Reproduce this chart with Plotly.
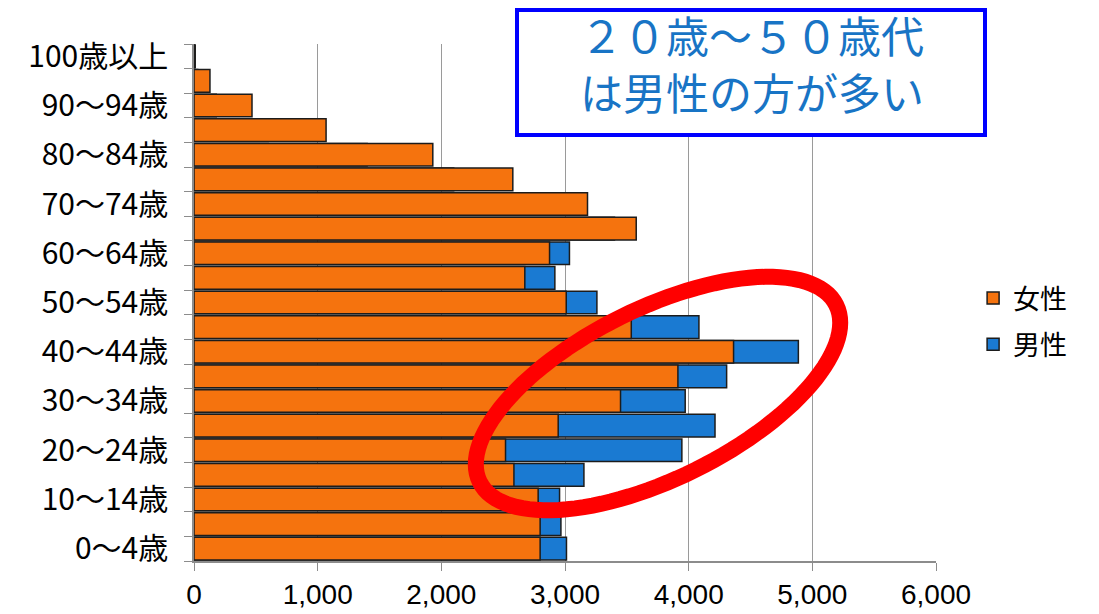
import numpy as np
import plotly.graph_objects as go

# Age groups, bottom to top
age_groups = [
    "0～4歳", "5～9歳", "10～14歳", "15～19歳", "20～24歳", "25～29歳",
    "30～34歳", "35～39歳", "40～44歳", "45～49歳", "50～54歳", "55～59歳",
    "60～64歳", "65～69歳", "70～74歳", "75～79歳", "80～84歳", "85～89歳",
    "90～94歳", "95～99歳", "100歳以上",
]
# Every other group is labelled on the axis
tick_labels = [
    "0～4歳", "", "10～14歳", "", "20～24歳", "",
    "30～34歳", "", "40～44歳", "", "50～54歳", "",
    "60～64歳", "", "70～74歳", "", "80～84歳", "",
    "90～94歳", "", "100歳以上",
]
female = [2799, 2799, 2783, 2587, 2519, 2945, 3449, 3913, 4363, 3536, 3010,
          2675, 2875, 3576, 3182, 2578, 1931, 1068, 469, 129, 10]
male = [3012, 2967, 2956, 3153, 3945, 4213, 3972, 4307, 4887, 4083, 3258,
        2918, 3036, 3400, 2900, 2100, 1400, 600, 180, 30, 3]

x_ticks = [0, 1000, 2000, 3000, 4000, 5000, 6000]

callout_lines = ["２０歳～５０歳代", "は男性の方が多い"]

W, H = 1099, 614
M_L, M_R, M_T, M_B = 194, 163, 44, 53
PW, PH = W - M_L - M_R, H - M_T - M_B


def px(xp):
    return (xp - M_L) / PW


def py(yp):
    return (H - M_B - yp) / PH


ORANGE = "#F5730E"
BLUE = "#1A7AD2"
EDGE = "#1c1c1c"
JP_FONT = "Noto Sans CJK JP"

fig = go.Figure()
# Male bars sit behind, female bars are drawn over them
fig.add_trace(go.Bar(
    x=male, y=age_groups, orientation="h", name="男性",
    marker=dict(color=BLUE, line=dict(color=EDGE, width=1.5)),
    legendgroup="m", legendrank=2,
))
fig.add_trace(go.Bar(
    x=female, y=age_groups, orientation="h", name="女性",
    marker=dict(color=ORANGE, line=dict(color=EDGE, width=1.5)),
    legendgroup="f", legendrank=1,
))

# Callout box and highlight ellipse
shapes = [
    dict(type="rect", xref="paper", yref="paper",
         x0=px(517), x1=px(985), y0=py(135), y1=py(10),
         fillcolor="white", line=dict(color="#0000FF", width=4), layer="above"),
]

cx, cy, a, b, th = 658, 393.5, 199, 85, np.radians(26.4)
t = np.linspace(0, 2 * np.pi, 121)
ex = cx + a * np.cos(t) * np.cos(th) - b * np.sin(t) * np.sin(th)
ey = cy - (a * np.cos(t) * np.sin(th) + b * np.sin(t) * np.cos(th))
path = "M " + " L ".join(f"{px(u):.5f},{py(v):.5f}" for u, v in zip(ex, ey)) + " Z"
shapes.append(dict(type="path", xref="paper", yref="paper", path=path,
                   line=dict(color="#FF0000", width=16), layer="above"))

annotations = [
    dict(xref="paper", yref="paper", x=px(752), y=py(yc),
         xanchor="center", yanchor="middle", showarrow=False, text=line,
         font=dict(family=JP_FONT, size=43, color="#1874C5"))
    for line, yc in zip(callout_lines, [34, 91])
]

fig.update_layout(
    width=W, height=H, autosize=False,
    margin=dict(l=M_L, r=M_R, t=M_T, b=M_B, pad=0, autoexpand=False),
    paper_bgcolor="white", plot_bgcolor="white",
    barmode="overlay", bargap=0.08,
    shapes=shapes,
    annotations=annotations,
    legend=dict(
        x=1.05, y=0.555, xanchor="left", yanchor="top",
        traceorder="grouped", tracegroupgap=8,
        font=dict(family=JP_FONT, size=27, color="black"),
        bgcolor="rgba(0,0,0,0)",
    ),
    xaxis=dict(
        range=[0, 6000], tickvals=x_ticks, tickformat=",",
        showgrid=True, gridcolor="#9a9a9a", gridwidth=1,
        showline=True, linecolor="#8c8c8c", linewidth=1.5,
        ticks="outside", ticklen=8, tickcolor="#8c8c8c",
        ticklabelstandoff=0, automargin=False,
        tickfont=dict(family="Liberation Sans Narrow, Liberation Sans", size=28, color="black"),
        zeroline=False, fixedrange=True,
    ),
    yaxis=dict(
        type="category", categoryorder="array", categoryarray=age_groups,
        tickvals=age_groups, ticktext=tick_labels, tickson="boundaries",
        showgrid=False, showline=True, linecolor="#8c8c8c", linewidth=1.5,
        ticks="outside", ticklen=8, tickcolor="#8c8c8c",
        ticklabelstandoff=18, automargin=False,
        tickfont=dict(family=JP_FONT, size=30, color="black"),
        fixedrange=True,
    ),
)

fig.write_html("out.html")
